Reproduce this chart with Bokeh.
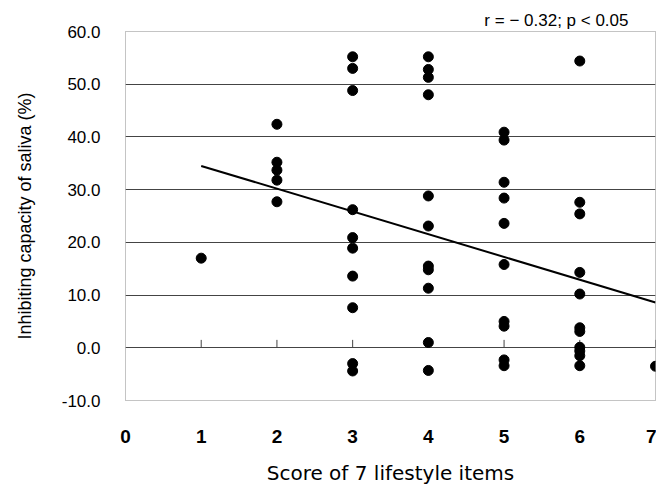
from bokeh.plotting import figure
from bokeh.models import FixedTicker, PrintfTickFormatter, ColumnDataSource
from bokeh.embed import file_html
from bokeh.resources import INLINE

# Data
score = [1,
         2, 2, 2, 2, 2,
         3, 3, 3, 3, 3, 3, 3, 3, 3, 3,
         4, 4, 4, 4, 4, 4, 4, 4, 4, 4, 4,
         5, 5, 5, 5, 5, 5, 5, 5, 5, 5,
         6, 6, 6, 6, 6, 6, 6, 6, 6, 6, 6,
         7]
capacity = [17.0,
            42.4, 35.2, 33.7, 31.8, 27.7,
            55.2, 53.0, 48.8, 26.2, 20.9, 18.9, 13.6, 7.6, -3.0, -4.4,
            55.2, 52.8, 51.3, 48.0, 28.8, 23.1, 15.5, 14.8, 11.3, 1.0, -4.3,
            40.9, 39.4, 31.4, 28.4, 23.6, 15.8, 5.0, 4.1, -2.3, -3.4,
            54.4, 27.6, 25.4, 14.3, 10.2, 3.8, 3.1, 0.1, -0.6, -1.5, -3.4,
            -3.5]
fit_x = [1, 7]
fit_y = [34.5, 8.6]
x_ticks = [0, 1, 2, 3, 4, 5, 6, 7]
y_ticks = [-10, 0, 10, 20, 30, 40, 50, 60]
grid_ticks = [0, 10, 20, 30, 40, 50]
annotation = "r = \u2212 0.32; p < 0.05"

FONT = "Liberation Sans"

p = figure(width=656, height=488, x_range=(0, 7), y_range=(-10, 60),
           output_backend="svg", toolbar_location=None,
           min_border_left=125, min_border_right=1, min_border_top=31, min_border_bottom=88,
           background_fill_color="white", border_fill_color="white")

p.title.text = annotation
p.title.align = "right"
p.title.offset = 27
p.title.standoff = 3
p.title.text_font = FONT
p.title.text_font_size = "17px"
p.title.text_font_style = "normal"
p.title.text_color = "black"

p.outline_line_color = "#888888"
p.outline_line_dash = "1 1"
p.outline_line_width = 1

p.xgrid.visible = False
p.ygrid.ticker = FixedTicker(ticks=grid_ticks)
p.ygrid.grid_line_color = "#444444"
p.ygrid.grid_line_width = 1

# y axis
p.yaxis.ticker = FixedTicker(ticks=y_ticks)
p.yaxis.formatter = PrintfTickFormatter(format="%.1f")
p.yaxis.axis_line_color = None
p.yaxis.major_tick_line_color = None
p.yaxis.major_tick_out = 0
p.yaxis.minor_tick_line_color = None
p.yaxis.major_label_standoff = 25
p.yaxis.major_label_text_font = FONT
p.yaxis.major_label_text_font_size = "17px"
p.yaxis.major_label_text_color = "black"
p.yaxis.axis_label = "Inhibiting capacity of saliva (%)"
p.yaxis.axis_label_text_font = FONT
p.yaxis.axis_label_text_font_size = "18px"
p.yaxis.axis_label_text_font_style = "normal"
p.yaxis.axis_label_text_color = "black"
p.yaxis.axis_label_standoff = 24

# x axis
p.xaxis.ticker = FixedTicker(ticks=x_ticks)
p.xaxis.axis_line_color = None
p.xaxis.major_tick_line_color = None
p.xaxis.major_tick_out = 0
p.xaxis.minor_tick_line_color = None
p.xaxis.major_label_standoff = 29
p.xaxis.major_label_text_font = FONT
p.xaxis.major_label_text_font_size = "19px"
p.xaxis.major_label_text_font_style = "bold"
p.xaxis.major_label_text_align = "right"
p.xaxis.major_label_text_color = "black"
p.xaxis.axis_label = "Score of 7 lifestyle items"
p.xaxis.axis_label_text_font = "DejaVu Sans"
p.xaxis.axis_label_text_font_size = "20px"
p.xaxis.axis_label_text_font_style = "normal"
p.xaxis.axis_label_text_color = "black"
p.xaxis.axis_label_standoff = 15

# small tick marks on the zero line
tick_x = x_ticks[1:]
p.segment(x0=tick_x, y0=[0] * len(tick_x), x1=tick_x, y1=[1.5] * len(tick_x),
          line_color="#444444", line_width=1)

# regression line
p.line(fit_x, fit_y, line_color="black", line_width=2)

# points
src = ColumnDataSource(dict(x=score, y=capacity))
p.scatter("x", "y", source=src, size=10, fill_color="black", line_color="black")

open("out.html", "w").write(file_html(p, INLINE))
